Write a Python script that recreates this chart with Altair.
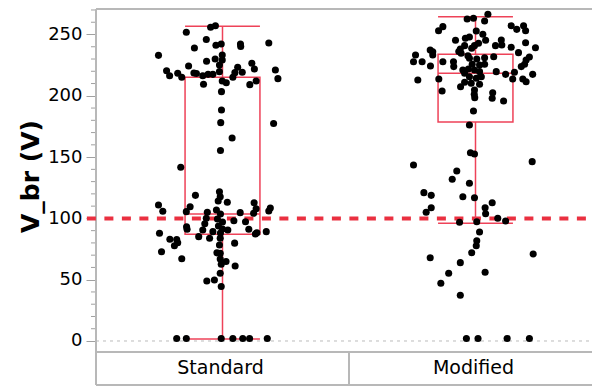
import altair as alt
import pandas as pd

categories = ["Standard", "Modified"]

std_values = [255.9, 257.2, 251.8, 245.9, 241.2, 242.3, 242.3, 240.2, 243.1, 239.0,
              233.0, 233.3, 230.0, 229.2, 228.2, 224.3, 225.1, 226.5, 221.9, 223.3,
              220.5, 216.4, 218.4, 215.1, 218.6, 218.2, 216.4, 217.5, 217.5, 219.7,
              218.9, 215.1, 219.2, 221.1, 214.0, 212.1, 210.7, 209.4, 209.1, 212.1,
              203.4, 188.4, 178.1, 177.4, 165.6, 155.4, 141.7, 118.8, 121.8, 117.7,
              114.2, 113.1, 110.9, 105.8, 109.5, 105.5, 112.8, 107.9, 104.2, 108.5,
              106.0, 105.0, 100.1, 95.7, 106.9, 103.6, 99.5, 97.1, 93.8, 91.4,
              88.1, 104.7, 98.1, 97.3, 91.1, 88.3, 89.2, 93.2, 91.1, 87.9,
              85.1, 83.8, 90.5, 89.2, 90.5, 83.0, 82.8, 77.7, 80.2, 72.8,
              67.1, 83.8, 78.3, 79.8, 71.9, 71.5, 66.9, 64.8, 62.6, 61.2,
              55.2, 48.9, 49.8, 44.5, 87.3,
              2.0, 2.0, 2.0, 2.0, 2.0, 2.0, 2.0]
std_jitter = [-0.047, -0.028, -0.143, -0.064, -0.026, -0.005, 0.071, 0.072, 0.183, -0.111,
              -0.253, -0.001, -0.029, -0.001, -0.063, -0.134, -0.012, 0.116, 0.126, 0.060,
              -0.221, -0.209, -0.177, -0.161, -0.113, -0.103, -0.078, -0.057, -0.038, -0.012,
              0.049, 0.041, 0.078, 0.209, 0.219, -0.001, 0.015, -0.075, 0.108, 0.133,
              -0.004, -0.004, -0.007, 0.202, 0.038, -0.008, -0.165, -0.107, -0.012, -0.009,
              -0.017, 0.019, -0.253, -0.236, -0.128, -0.143, 0.125, 0.133, 0.123, 0.189,
              0.183, -0.060, -0.064, -0.070, -0.024, -0.008, -0.020, 0.000, -0.016, 0.000,
              -0.008, 0.070, 0.045, 0.091, 0.104, 0.136, 0.173, -0.142, -0.140, -0.249,
              -0.094, -0.051, -0.078, -0.038, 0.021, -0.208, -0.181, -0.190, -0.177, -0.241,
              -0.161, -0.009, -0.012, 0.048, -0.022, -0.009, -0.009, 0.014, -0.005, 0.050,
              -0.009, -0.062, -0.032, -0.005, 0.130,
              -0.181, -0.143, -0.005, 0.041, 0.080, 0.107, 0.177]

mod_values = [266.5, 262.7, 263.2, 261.0, 256.4, 253.1, 257.2, 254.2, 257.2, 253.1,
              252.9, 245.3, 246.9, 248.0, 250.2, 245.3, 245.5, 241.4, 243.3, 240.9,
              240.9, 240.9, 242.8, 237.4, 236.0, 238.2, 236.1, 238.8, 239.6, 239.2,
              233.3, 227.8, 233.3, 234.7, 232.7, 235.2, 231.9, 231.7, 230.6, 230.0,
              231.1, 227.8, 227.8, 227.8, 223.8, 224.3, 225.7, 225.1, 225.7, 229.2,
              225.7, 223.8, 221.1, 218.4, 221.9, 221.1, 219.7, 219.7, 217.5, 219.2,
              217.5, 212.9, 213.7, 215.6, 214.3, 215.6, 213.7, 213.7, 211.5, 211.0,
              207.4, 210.2, 209.4, 204.7, 203.9, 201.2, 198.5, 202.5, 198.0, 195.8,
              187.6, 176.2, 153.6, 152.5, 143.6, 146.3, 138.7, 131.9, 128.6, 121.0,
              118.8, 117.7, 116.9, 112.8, 108.7, 103.8, 108.7, 105.0, 100.1, 97.9,
              96.8, 97.3, 88.9, 81.8, 77.7, 72.0, 67.9, 71.0, 63.9, 55.2,
              56.0, 47.1, 37.3,
              2.0, 2.0, 2.0, 2.0]
mod_jitter = [0.049, -0.033, -0.008, 0.036, -0.129, -0.146, 0.141, 0.163, 0.190, 0.198,
              0.003, -0.079, -0.040, -0.024, 0.029, 0.040, 0.102, 0.104, 0.198, -0.043,
              -0.004, 0.079, 0.012, -0.179, -0.169, -0.060, -0.066, -0.015, 0.141, 0.237,
              -0.237, -0.245, -0.169, -0.057, -0.030, 0.170, 0.072, 0.213, -0.024, 0.005,
              0.036, -0.211, -0.129, -0.087, -0.086, -0.178, -0.013, 0.016, 0.036, 0.200,
              0.194, 0.181, -0.050, -0.043, -0.028, -0.004, 0.016, 0.082, 0.119, 0.154,
              0.226, -0.228, -0.145, -0.024, 0.003, 0.023, 0.147, 0.187, 0.200, -0.043,
              -0.059, -0.017, 0.016, -0.004, -0.132, -0.005, -0.003, 0.068, 0.066, 0.111,
              -0.008, -0.024, -0.020, -0.004, -0.245, 0.224, -0.074, -0.092, -0.024, -0.204,
              -0.175, -0.050, -0.004, 0.066, 0.038, 0.040, -0.175, -0.195, 0.088, 0.119,
              -0.063, 0.005, 0.016, 0.005, 0.003, -0.015, -0.179, 0.228, -0.060, -0.106,
              0.038, -0.137, -0.060,
              -0.036, 0.010, 0.125, 0.213]

# box-plot summary
whisker_low = [1.6, 96.0]
q1 = [87.0, 178.6]
median = [103.6, 218.3]
q3 = [215.1, 233.8]
whisker_high = [256.7, 264.5]

spec_limit = 100
y_ticks = [0, 50, 100, 150, 200, 250]
minor_ticks = [v for v in range(0, 280, 10) if v % 50 != 0]

X_MAX = 496 / 253
Y_DOM = [-35.9, 270.8]
BOX_HALF = 0.148
BOX_COLOR = "#ee4258"
LINE_RED = "#ea3040"
FRAME = "#b8b8b8"

pts = pd.DataFrame({
    "group": [categories[0]] * len(std_values) + [categories[1]] * len(mod_values),
    "value": std_values + mod_values,
    "pos": [0.5 + j for j in std_jitter] + [1.5 + j for j in mod_jitter],
})
box = pd.DataFrame({
    "group": categories,
    "center": [0.5, 1.5],
    "left": [0.5 - BOX_HALF, 1.5 - BOX_HALF],
    "right": [0.5 + BOX_HALF, 1.5 + BOX_HALF],
    "low": whisker_low, "q1": q1, "median": median, "q3": q3, "high": whisker_high,
})

xs = alt.Scale(domain=[0, X_MAX], nice=False, zero=False)
ys = alt.Scale(domain=Y_DOM, nice=False, zero=False)
X = lambda f: alt.X(f, type="quantitative", scale=xs, axis=None)

base_axis = alt.Axis(values=y_ticks, labelFont="DejaVu Sans", labelFontSize=18,
                     labelColor="black", tickSize=10, tickColor="#a0a0a0", tickWidth=1,
                     labelPadding=4, domain=False, grid=False,
                     title="V_br (V)", titleFont="DejaVu Sans", titleFontSize=25,
                     titleFontWeight="bold", titleColor="black",
                     titleX=-58, titleY=167, titleBaseline="alphabetic", titleAngle=270)

axis_layer = alt.Chart(pd.DataFrame({"v": [0]})).mark_point(opacity=0).encode(
    x=alt.value(0), y=alt.Y("v:Q", scale=ys, axis=base_axis))

minor = alt.Chart(pd.DataFrame({"v": minor_ticks})).mark_rule(color="#a0a0a0", strokeWidth=1).encode(
    x=alt.value(-5), x2=alt.value(0), y=alt.Y("v:Q", scale=ys))

zero_line = alt.Chart(pd.DataFrame({"v": [0], "a": [0.0], "b": [X_MAX]})).mark_rule(
    color="#bbbbbb", strokeWidth=1, strokeDash=[3, 4]).encode(
    x=X("a"), x2="b", y=alt.Y("v:Q", scale=ys))

# frame: top, inner bottom, outer bottom, left, divider
frame_h = alt.Chart(pd.DataFrame({"v": [-9.0, Y_DOM[0], Y_DOM[1]], "a": [0.0] * 3, "b": [X_MAX] * 3})).mark_rule(
    color=FRAME, strokeWidth=2).encode(x=X("a"), x2="b", y=alt.Y("v:Q", scale=ys))
frame_v = alt.Chart(pd.DataFrame({"a": [1.0, 0.0], "v1": [-9.0, Y_DOM[1]], "v2": [Y_DOM[0], Y_DOM[0]]})).mark_rule(
    color=FRAME, strokeWidth=2).encode(x=X("a"), y=alt.Y("v1:Q", scale=ys), y2="v2")

labels = alt.Chart(pd.DataFrame({"group": categories, "c": [0.5, 1.5], "v": [-27.0, -27.0]})).mark_text(
    font="DejaVu Sans", fontSize=19, color="black", align="center", baseline="alphabetic", dx=-2).encode(
    x=X("c"), y=alt.Y("v:Q", scale=ys), text="group:N")

spec = alt.Chart(pd.DataFrame({"v": [spec_limit], "a": [-0.036], "b": [X_MAX]})).mark_rule(
    color=LINE_RED, strokeWidth=4, strokeDash=[9, 8.5]).encode(
    x=X("a"), x2="b", y=alt.Y("v:Q", scale=ys))

bchart = alt.Chart(box)
rect = bchart.mark_rect(fill=None, fillOpacity=0, stroke=BOX_COLOR, strokeWidth=1.5).encode(
    x=X("left"), x2="right", y=alt.Y("q1:Q", scale=ys), y2="q3")
med = bchart.mark_rule(color=BOX_COLOR, strokeWidth=1.5).encode(
    x=X("left"), x2="right", y=alt.Y("median:Q", scale=ys))
wh_up = bchart.mark_rule(color=BOX_COLOR, strokeWidth=1.5).encode(
    x=X("center"), y=alt.Y("q3:Q", scale=ys), y2="high")
wh_lo = bchart.mark_rule(color=BOX_COLOR, strokeWidth=1.5).encode(
    x=X("center"), y=alt.Y("low:Q", scale=ys), y2="q1")
cap_up = bchart.mark_rule(color=BOX_COLOR, strokeWidth=1.5).encode(
    x=X("left"), x2="right", y=alt.Y("high:Q", scale=ys))
cap_lo = bchart.mark_rule(color=BOX_COLOR, strokeWidth=1.5).encode(
    x=X("left"), x2="right", y=alt.Y("low:Q", scale=ys))

points = alt.Chart(pts).mark_circle(color="black", opacity=1, size=50).encode(
    x=X("pos"), y=alt.Y("value:Q", scale=ys))

chart = alt.layer(
    axis_layer, minor, zero_line, frame_h, frame_v, labels, spec,
    rect, med, wh_up, wh_lo, cap_up, cap_lo, points
).properties(
    width=496, height=376,
    autosize=alt.AutoSizeParams(type="none"),
    padding={"left": 88, "top": 1, "right": 0, "bottom": 1},
).configure_view(stroke=None)

chart.save("out.html", embed_options={"renderer": "svg", "actions": False})
